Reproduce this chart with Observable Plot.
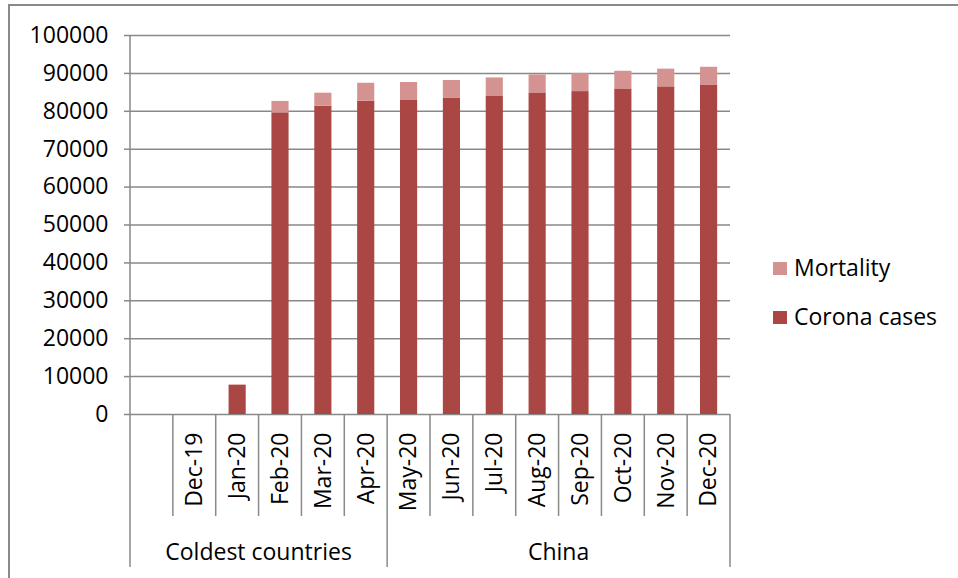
<!DOCTYPE html>
<html>
<head>
<meta charset="utf-8">
<script src="https://cdn.jsdelivr.net/npm/d3@7"></script>
<script src="https://cdn.jsdelivr.net/npm/@observablehq/plot@0.6"></script>
<style>
  html, body { margin: 0; padding: 0; background: #fff; }
  #chart { width: 958px; height: 578px; }
</style>
</head>
<body>
<div id="chart"></div>
<script>
// ---- data ----
const categories = ["", "Dec-19", "Jan-20", "Feb-20", "Mar-20", "Apr-20", "May-20", "Jun-20", "Jul-20", "Aug-20", "Sep-20", "Oct-20", "Nov-20", "Dec-20"];
const coronaCases = [0, 0, 7650, 79600, 81350, 82650, 82850, 83400, 84050, 84850, 85200, 85900, 86450, 86950];
const mortality   = [0, 0, 170, 3000, 3430, 4750, 4750, 4730, 4750, 4750, 4750, 4670, 4670, 4670];
const groups = ["Coldest countries", "China"];
const groupOf = ["Coldest countries", "Coldest countries", "Coldest countries", "Coldest countries", "Coldest countries", "Coldest countries",
                 "China", "China", "China", "China", "China", "China", "China", "China"];
const seriesNames = ["Corona cases", "Mortality"];
const seriesColors = ["#aa4643", "#d49391"];
const legendOrder = ["Mortality", "Corona cases"];
const yTicks = [0, 10000, 20000, 30000, 40000, 50000, 60000, 70000, 80000, 90000, 100000];

const rows = [];
categories.forEach((c, i) => {
  rows.push({month: c, series: "Corona cases", value: coronaCases[i]});
  rows.push({month: c, series: "Mortality", value: mortality[i]});
});

const FONT = "'Open Sans', sans-serif";
const FS = 23;
const GRAY = "#898989";

const chart = Plot.plot({
  width: 958,
  height: 578,
  marginLeft: 130,
  marginRight: 228,
  marginTop: 35,
  marginBottom: 164,
  style: {fontFamily: FONT, fontSize: FS + "px", color: "#000", background: "#fff"},
  x: {domain: categories, paddingInner: 0.6, paddingOuter: 0.3, round: false, label: null},
  y: {domain: [0, 100000], label: null},
  color: {domain: seriesNames, range: seriesColors},
  marks: [
    Plot.gridY({ticks: yTicks, stroke: GRAY, strokeOpacity: 1, strokeWidth: 1.5}),
    Plot.barY(rows, {x: "month", y: "value", fill: "series", order: seriesNames}),
    Plot.axisY({ticks: yTicks, tickSize: 6, tickPadding: 16, stroke: GRAY, strokeWidth: 1.5, tickFormat: d3.format("d"), label: null, fill: "#000"}),
    Plot.axisX({tickSize: 0, tickRotate: -90, tickPadding: 18, label: null, fill: "#000"})
  ]
});

document.getElementById("chart").appendChild(chart);

// ---- extra decorations drawn from the plot's own scales ----
const svg = d3.select(chart);
const xs = chart.scale("x");
const ys = chart.scale("y");
const step = xs.step;
const gap = (step - xs.bandwidth) / 2;
const y0 = ys.apply(0);
const yTop = ys.apply(100000);
const g = svg.append("g").attr("stroke", GRAY).attr("stroke-width", 1.5);

const leftEdge = xs.apply(categories[0]) - gap;
const rightEdge = xs.apply(categories[categories.length - 1]) + xs.bandwidth + gap;
// y axis line (extends into group separator)
g.append("line").attr("x1", leftEdge).attr("x2", leftEdge).attr("y1", yTop).attr("y2", y0 + 153);
g.append("line").attr("x1", rightEdge).attr("x2", rightEdge).attr("y1", y0).attr("y2", y0 + 153);
for (let i = 1; i < categories.length; i++) {
  const bx = xs.apply(categories[i]) - gap;
  const isGroupBoundary = groupOf[i] !== groupOf[i - 1];
  g.append("line").attr("x1", bx).attr("x2", bx).attr("y1", y0).attr("y2", y0 + (isGroupBoundary ? 153 : 102));
}
// group labels
groups.forEach(name => {
  const idx = groupOf.map((gname, i) => gname === name ? i : -1).filter(i => i >= 0);
  const a = xs.apply(categories[idx[0]]) - gap;
  const b = xs.apply(categories[idx[idx.length - 1]]) + xs.bandwidth + gap;
  svg.append("text").attr("x", (a + b) / 2).attr("y", y0 + 146)
    .attr("text-anchor", "middle").attr("font-family", FONT).attr("font-size", FS).attr("fill", "#000")
    .text(name);
});
// legend
const lg = svg.append("g").attr("text-anchor", "start");
legendOrder.forEach((name, i) => {
  const col = seriesColors[seriesNames.indexOf(name)];
  const yy = 262 + i * 49;
  lg.append("rect").attr("x", 773).attr("y", yy).attr("width", 14).attr("height", 13).attr("fill", col);
  lg.append("text").attr("x", 794).attr("y", yy + 14).attr("text-anchor", "start")
    .attr("font-family", FONT).attr("font-size", FS).attr("fill", "#000").text(name);
});
// outer chart border
svg.append("path").attr("d", "M9,578V5H958").attr("fill", "none").attr("stroke", GRAY).attr("stroke-width", 2);
</script>
</body>
</html>
